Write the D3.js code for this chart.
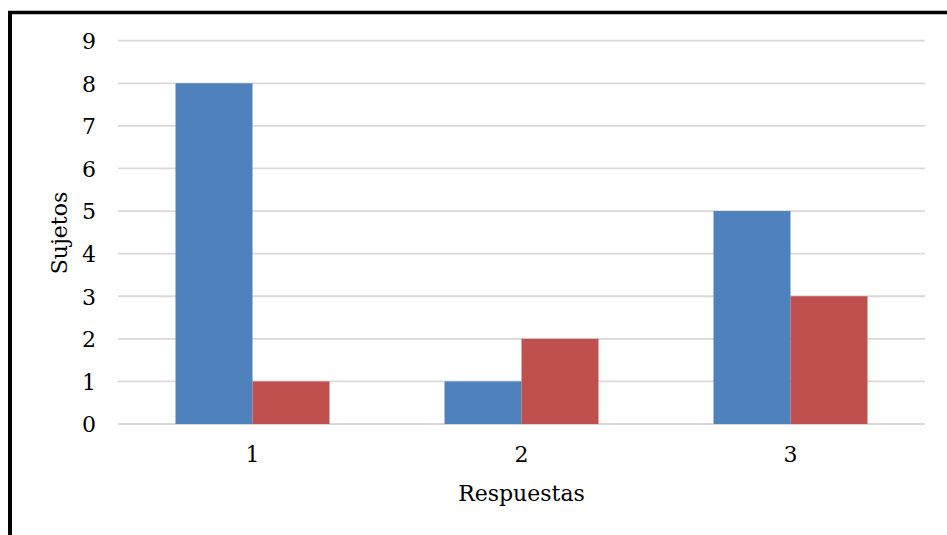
<!DOCTYPE html>
<html>
<head>
<meta charset="utf-8">
<script src="https://cdn.jsdelivr.net/npm/d3@7"></script>
<style>
  html, body { margin: 0; padding: 0; background: #fff; }
  svg { display: block; }
  text { font-family: "DejaVu Serif", serif; fill: #000; }
</style>
</head>
<body>
<svg id="chart" width="947" height="535"></svg>
<script>
// Response categories and the two series of subject counts
const categories = ["1", "2", "3"];
const seriesA = [8, 1, 5];
const seriesB = [1, 2, 3];
const yTicks = [0, 1, 2, 3, 4, 5, 6, 7, 8, 9];
const colors = ["#4F81BD", "#C0504D"];
const xTitle = "Respuestas";
const yTitle = "Sujetos";

const svg = d3.select("#chart");
const plot = { left: 118, right: 925, top: 40.7, bottom: 424 };
const fontSize = "22px";

// Frame lines along the left and top edges
svg.append("line").attr("x1", 10).attr("x2", 10).attr("y1", 11).attr("y2", 535)
  .attr("stroke", "#000").attr("stroke-width", 4);
svg.append("line").attr("x1", 8).attr("x2", 947).attr("y1", 12.5).attr("y2", 12.5)
  .attr("stroke", "#000").attr("stroke-width", 3.5);

const x = d3.scaleBand().domain(categories)
  .range([plot.left, plot.right])
  .paddingInner(0.4275).paddingOuter(0.21375);
const xSub = d3.scaleBand().domain([0, 1]).range([0, x.bandwidth()]);
const y = d3.scaleLinear().domain([0, 9]).range([plot.bottom, plot.top]);

// Horizontal gridlines
svg.append("g").selectAll("line").data(yTicks).join("line")
  .attr("x1", plot.left).attr("x2", plot.right)
  .attr("y1", d => y(d)).attr("y2", d => y(d))
  .attr("stroke", "#D9D9D9").attr("stroke-width", 1.8);

// Y tick labels
const yAxis = d3.axisLeft(y).tickValues(yTicks).tickSize(0).tickPadding(0);
const gy = svg.append("g").attr("transform", "translate(96,0)").call(yAxis);
gy.select(".domain").remove();
gy.selectAll("text").style("font-family", "DejaVu Serif").style("font-size", fontSize).attr("dy", "0.36em");

// Bars
const rows = categories.map((c, i) => ({ cat: c, vals: [seriesA[i], seriesB[i]] }));
svg.append("g").selectAll("g").data(rows).join("g")
  .attr("transform", d => `translate(${x(d.cat)},0)`)
  .selectAll("rect").data(d => d.vals.map((v, k) => ({ v, k }))).join("rect")
  .attr("x", d => xSub(d.k))
  .attr("width", xSub.bandwidth())
  .attr("y", d => y(d.v))
  .attr("height", d => y(0) - y(d.v))
  .attr("fill", d => colors[d.k]);

// X category labels
const xAxis = d3.axisBottom(x).tickSize(0).tickPadding(0);
const gx = svg.append("g").attr("transform", `translate(0,${plot.bottom})`).call(xAxis);
gx.select(".domain").remove();
gx.selectAll("text").style("font-family", "DejaVu Serif").style("font-size", fontSize)
  .attr("y", 38).attr("dy", 0);

// Axis titles
svg.append("text").attr("x", 521.5).attr("y", 500.5).attr("text-anchor", "middle")
  .style("font-size", fontSize).text(xTitle);
svg.append("text").attr("transform", "translate(67,233) rotate(-90)")
  .attr("text-anchor", "middle").style("font-size", fontSize).text(yTitle);
</script>
</body>
</html>
